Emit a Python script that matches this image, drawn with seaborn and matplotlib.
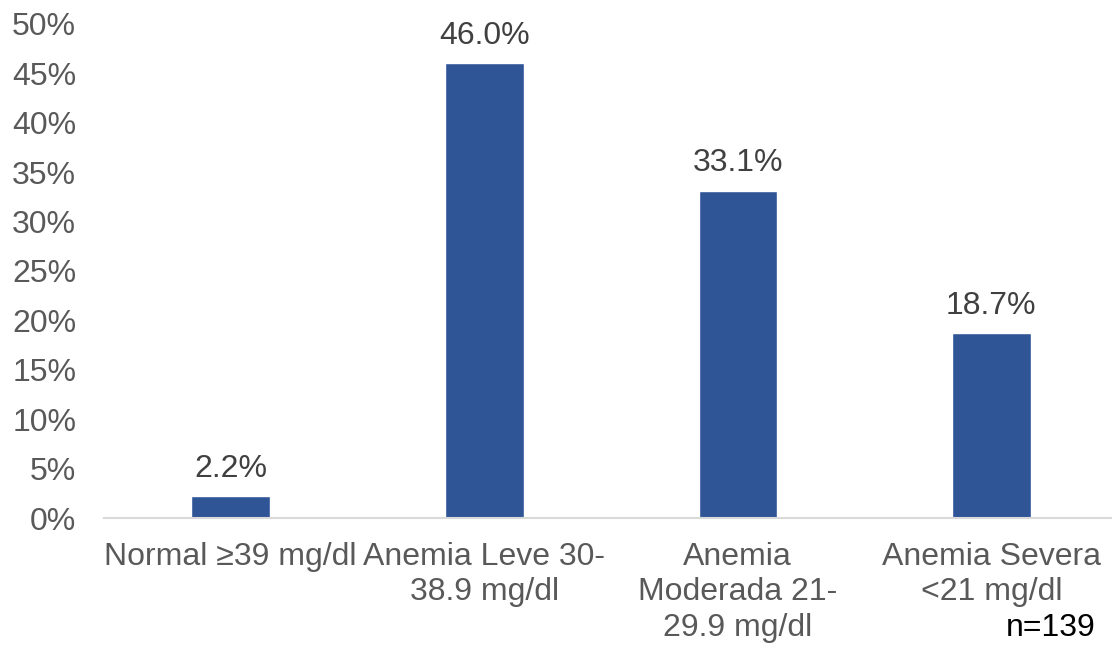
import matplotlib
matplotlib.use('Agg')
import matplotlib.pyplot as plt
import seaborn as sns
import pandas as pd
from matplotlib.ticker import MultipleLocator, FuncFormatter

categories = ['Normal ≥39 mg/dl', 'Anemia Leve 30-\n38.9 mg/dl',
              'Anemia\nModerada 21-\n29.9 mg/dl', 'Anemia Severa\n<21 mg/dl']
percentages = [2.2, 46.0, 33.1, 18.7]
sample_note = 'n=139'

sns.set_style('white')
plt.rcParams['font.family'] = ['Liberation Sans', 'DejaVu Sans']

df = pd.DataFrame({'categoria': categories, 'pct': percentages})

fig = plt.figure(figsize=(11.12, 6.46), dpi=100)
ax = fig.add_axes([0.0935, 0.198, 0.912, 0.765])

sns.barplot(data=df, x='categoria', y='pct', color='#2F5597', width=0.31,
            saturation=1, ax=ax)

ax.set_ylim(0, 50)
ax.yaxis.set_major_locator(MultipleLocator(5))
ax.yaxis.set_major_formatter(FuncFormatter(lambda v, p: f'{v:.0f}%'))
ax.set_xlabel('')
ax.set_ylabel('')

for s in ['top', 'right', 'left']:
    ax.spines[s].set_visible(False)
ax.spines['bottom'].set_color('#D9D9D9')
ax.spines['bottom'].set_linewidth(1.5)

ax.tick_params(axis='both', length=0, labelsize=23, colors='#595959')
ax.tick_params(axis='x', pad=17)
ax.tick_params(axis='y', pad=20)
for lbl in ax.get_xticklabels():
    lbl.set_linespacing(1.25)

ax.bar_label(ax.containers[0], labels=[f'{v:.1f}%' for v in percentages],
             padding=9, fontsize=23, color='#404040')

fig.text(0.945, 0.016, sample_note, fontsize=23, color='black', ha='center')

fig.savefig('out.png', dpi=100)
